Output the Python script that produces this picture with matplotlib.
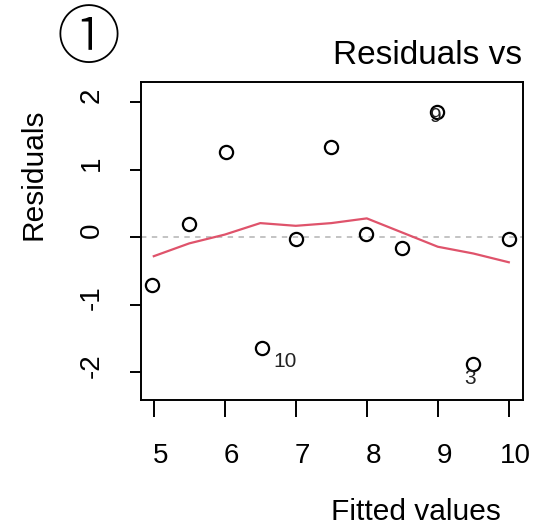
import matplotlib
matplotlib.use("Agg")
import matplotlib.pyplot as plt
import matplotlib.transforms as mtransforms

plt.rcParams['font.family'] = ['Liberation Sans', 'DejaVu Sans']

# fitted values and residuals
fitted = [4.98, 5.49, 6.02, 6.52, 7.0, 7.5, 7.99, 8.5, 8.99, 9.49, 10.0]
resid = [-0.71, 0.19, 1.26, -1.64, -0.02, 1.33, 0.05, -0.16, 1.85, -1.88, -0.02]

# smoother (red line)
smooth_x = [5.0, 5.5, 6.0, 6.5, 7.0, 7.5, 8.0, 8.5, 9.0, 9.5, 10.0]
smooth_y = [-0.28, -0.09, 0.04, 0.21, 0.17, 0.21, 0.28, 0.07, -0.14, -0.24, -0.37]

# labelled observations: index in arrays -> label
flag_idx = [3, 8, 9]
flag_lab = ["10", "9", "3"]
flag_off = [(17, -10), (-1, -3), (-2, -10)]

xticks = [5, 6, 7, 8, 9, 10]
yticks = [-2, -1, 0, 1, 2]

fig = plt.figure(figsize=(5.46, 5.26), dpi=100)
ax = fig.add_axes([141/546, 1 - 400/526, (523-141)/546, (400-82)/526])

ax.axhline(0, color="#bebebe", lw=1.3, ls=(0, (3, 3)), zorder=1)
ax.plot(smooth_x, smooth_y, color="#DF536B", lw=1.6, zorder=2)
ax.plot(fitted, resid, "o", mfc="none", mec="black", ms=9.5, mew=1.6, zorder=3)

for i, lab, off in zip(flag_idx, flag_lab, flag_off):
    ax.annotate(lab, (fitted[i], resid[i]), xytext=off, textcoords="offset points",
                ha="center", va="center", fontsize=15, color="#222222")

ax.set_xlim(4.82, 10.2)
ax.set_ylim(-2.41, 2.30)
ax.set_xticks(xticks)
ax.set_yticks(yticks)
ax.set_xticklabels([str(t) for t in xticks], fontsize=20)
ax.set_yticklabels([str(t) for t in yticks], fontsize=20, rotation=90, va="center")
ax.tick_params(axis="x", length=12, width=1.4, pad=19)
ax.tick_params(axis="y", length=8, width=1.4, pad=18)
for s in ax.spines.values():
    s.set_linewidth(1.4)

# tick labels in the original sit a little off their ticks
sx = mtransforms.ScaledTranslation(7/100, 0, fig.dpi_scale_trans)
for lab in ax.get_xticklabels():
    lab.set_transform(lab.get_transform() + sx)
sy = mtransforms.ScaledTranslation(0, 7/100, fig.dpi_scale_trans)
for lab in ax.get_yticklabels():
    lab.set_transform(lab.get_transform() + sy)

fig.text(33/546, 1 - 174/526, "Residuals", rotation=90, fontsize=21.5,
         ha="center", va="center")
fig.text(416/546, 1 - 512/526, "Fitted values", fontsize=21.5,
         ha="center", va="center")
fig.text(333/546, 1 - 55/526, "Residuals vs", fontsize=24,
         ha="left", va="center")
fig.text(88/546, 1 - 40/526, "\u2460", fontsize=46, ha="center", va="center",
         family=["DejaVu Sans", "Noto Sans CJK JP"], fontweight="light")

fig.savefig("out.png", dpi=100)
